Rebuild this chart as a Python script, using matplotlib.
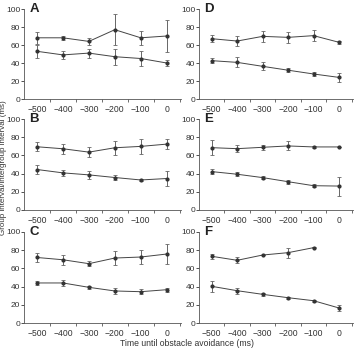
import numpy as np
import matplotlib
matplotlib.use("Agg")
import matplotlib.pyplot as plt

plt.rcParams['font.family'] = ['Liberation Sans', 'DejaVu Sans']

times = [-500, -400, -300, -200, -100, 0]
xtick_labels = ['\u2212500', '\u2212400', '\u2212300', '\u2212200', '\u2212100', '0']
panel_labels = ['A', 'B', 'C', 'D', 'E', 'F']

A_upper = [68, 68, 64, 77, 68, 70]
A_upper_err = [7, 2, 4, 17, 8, 18]
A_lower = [53, 49, 51, 47, 45, 40]
A_lower_err = [7, 4, 5, 9, 8, 3]

B_upper = [69.5, 67.3, 63.6, 68.4, 69.9, 72.4]
B_upper_err = [5, 5.5, 5.5, 7.5, 8.5, 5.5]
B_lower = [44.5, 40.8, 38.6, 35.7, 33, 34.6]
B_lower_err = [5, 3, 4, 2.5, 1, 8]

C_upper = [72, 69.5, 65.2, 71.4, 72.5, 75.8]
C_upper_err = [5, 5.5, 3, 8, 8, 10.5]
C_lower = [44, 44, 39.2, 35.2, 34.4, 36.6]
C_lower_err = [2, 3.5, 1.5, 3, 3, 2]

D_upper = [67, 64.4, 69.6, 68.5, 70.4, 63]
D_upper_err = [4, 6, 6, 6, 6.5, 1.5]
D_lower = [42.6, 40.7, 36.3, 32, 27.8, 24]
D_lower_err = [2.5, 5.5, 4.5, 2, 2.5, 5]

E_upper = [68.5, 67.4, 68.9, 70.4, 69.3, 69.3]
E_upper_err = [8, 4, 2.5, 5, 1, 0]
E_lower = [42.2, 39.3, 35.6, 31.1, 26.7, 26.3]
E_lower_err = [2.5, 2, 1.5, 2, 1.5, 10.5]

F_upper = [73.3, 68.9, 74.7, 77.3, 82.8, np.nan]
F_upper_err = [2.5, 3.5, 0.5, 5.5, 0.5, np.nan]
F_lower = [40.3, 35.5, 31.5, 27.8, 24.5, 16.5]
F_lower_err = [6, 3.5, 1.5, 1, 1, 3.5]

panels = {
    'A': (A_upper, A_upper_err, A_lower, A_lower_err),
    'B': (B_upper, B_upper_err, B_lower, B_lower_err),
    'C': (C_upper, C_upper_err, C_lower, C_lower_err),
    'D': (D_upper, D_upper_err, D_lower, D_lower_err),
    'E': (E_upper, E_upper_err, E_lower, E_lower_err),
    'F': (F_upper, F_upper_err, F_lower, F_lower_err),
}

W, H = 354, 348
fig = plt.figure(figsize=(W / 100, H / 100), dpi=100)

col_px = [(24, 181), (199, 353)]
row_px = [(9, 99), (119, 210), (232, 323)]

for i, lab in enumerate(panel_labels):
    c = i // 3
    r = i % 3
    x0, x1 = col_px[c]
    yt, yb = row_px[r]
    ax = fig.add_axes([x0 / W, 1 - yb / H, (x1 - x0) / W, (yb - yt) / H])
    up, upe, lo, loe = panels[lab]
    for vals, errs in ((up, upe), (lo, loe)):
        ax.errorbar(times, vals, yerr=errs, color='#444444', ecolor='#666666',
                    elinewidth=0.7, capsize=1.6, capthick=0.6, lw=0.7,
                    marker='o', ms=2.0, mfc='#333333', mec='#333333')
    ax.set_xlim(-550, 55)
    ax.set_ylim(0, 100)
    ax.set_yticks([0, 20, 40, 60, 80, 100])
    ax.set_xticks(times)
    ax.set_xticklabels(xtick_labels)
    ax.set_xticks([-450, -350, -250, -150, -50, 50], minor=True)
    ax.tick_params(axis='x', which='major', length=0, pad=4, labelsize=6.2, colors='#333333')
    ax.tick_params(axis='x', which='minor', length=2.5, width=0.6, color='#555555')
    ax.tick_params(axis='y', length=2.2, width=0.6, pad=0.6, labelsize=6.0, colors='#333333')
    for s in ('top', 'right'):
        ax.spines[s].set_visible(False)
    for s in ('left', 'bottom'):
        ax.spines[s].set_linewidth(0.6)
        ax.spines[s].set_color('#555555')
    ax.text(0.035, 100, lab, transform=ax.get_yaxis_transform(), ha='left', va='center',
            fontsize=9.5, fontweight='bold', color='#222222')

fig.text(187 / W, 1 - 343 / H, 'Time until obstacle avoidance (ms)', ha='center', va='center',
         fontsize=6.2, color='#333333')
fig.text(3.3 / W, 1 - 168 / H, 'Group interval/intergroup interval (ms)', ha='center', va='center',
         rotation=90, fontsize=5.8, color='#333333')

fig.savefig('out.png', dpi=100)
